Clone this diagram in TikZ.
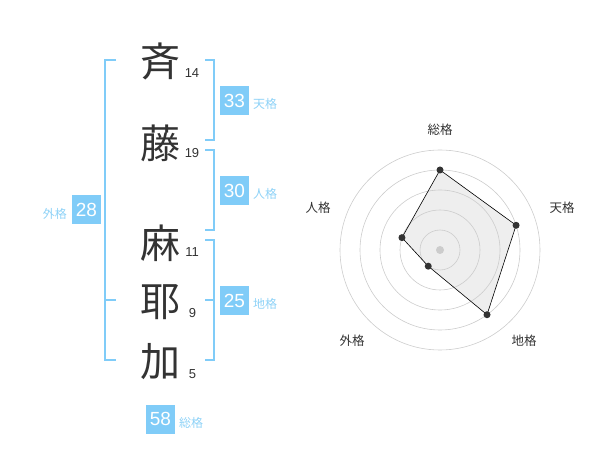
\documentclass[tikz,border=0pt]{standalone}
\usepackage{fontspec}
\setmainfont{Liberation Sans}
\newfontfamily\jpfont{Noto Sans CJK JP}
\definecolor{kakublue}{HTML}{80CCF8}
\definecolor{labelblue}{HTML}{8ED2F7}
\definecolor{inkgray}{HTML}{333333}
\definecolor{ringgray}{HTML}{CCCCCC}
\definecolor{areagray}{HTML}{EEEEEE}

\begin{document}
\begin{tikzpicture}[x=1pt, y=-1pt,
  kanji/.style={font=\jpfont\fontsize{40}{40}\selectfont, text=inkgray, inner sep=0pt},
  strokes/.style={font=\fontsize{13}{13}\selectfont, text=inkgray, inner sep=0pt},
  kakubox/.style={fill=kakublue, text=white, minimum size=29pt, inner sep=0pt,
    font=\fontsize{19}{19}\selectfont},
  kakuname/.style={font=\jpfont\fontsize{12}{12}\selectfont, text=labelblue, inner sep=0pt},
  bracket/.style={draw=kakublue, line width=2pt},
  axisname/.style={font=\jpfont\fontsize{12.5}{12.5}\selectfont, text=inkgray, inner sep=0pt},
  dot/.style={circle, fill=inkgray, inner sep=0pt, minimum size=7pt}]
  \useasboundingbox (0,0) rectangle (600,470);

  \node[kanji] (sai) at (160, 61) {斉};
  \node[kanji] (to) at (160, 143) {藤};
  \node[kanji] (ma) at (160, 243) {麻};
  \node[kanji] (ya) at (160, 302) {耶};
  \node[kanji] (ka) at (160, 362) {加};

  \node[strokes] (n14) at (192, 73) {14};
  \node[strokes] (n19) at (192, 153) {19};
  \node[strokes] (n11) at (192, 252) {11};
  \node[strokes] (n9) at (192.5, 313) {9};
  \node[strokes] (n5) at (192.5, 374) {5};

  % brackets
  \draw[bracket] (116, 60) -- (105, 60) -- (105, 360) -- (116, 360);
  \draw[bracket] (105, 300) -- (116, 300);
  \draw[bracket] (205, 60) -- (214, 60) -- (214, 140) -- (205, 140);
  \draw[bracket] (205, 150) -- (214, 150) -- (214, 230) -- (205, 230);
  \draw[bracket] (205, 240) -- (214, 240) -- (214, 360) -- (205, 360);
  \draw[bracket] (205, 300) -- (214, 300);

  \node[kakubox] (ten) at (234.5, 100.5) {33};
  \node[kakuname, anchor=west] (tenl) at (253, 104) {天格};
  \node[kakubox] (jin) at (234.5, 190.5) {30};
  \node[kakuname, anchor=west] (jinl) at (253, 194) {人格};
  \node[kakubox] (chi) at (234.5, 300.5) {25};
  \node[kakuname, anchor=west] (chil) at (253, 304) {地格};
  \node[kakubox] (gai) at (86.5, 210) {28};
  \node[kakuname, anchor=east] (gail) at (67, 214) {外格};
  \node[kakubox] (so) at (160.5, 419) {58};
  \node[kakuname, anchor=west] (sol) at (179, 423) {総格};

  % radar chart
  \begin{scope}[shift={(440,250)}, y=1pt]
    \coordinate (pso) at (90:80);
    \coordinate (pten) at (18:80);
    \coordinate (pchi) at (-54:80);
    \coordinate (pgai) at (-126:20);
    \coordinate (pjin) at (162:40);
    \fill[areagray] (pso) -- (pten) -- (pchi) -- (pgai) -- (pjin) -- cycle;
    \foreach \r in {20,40,60,80,100}
      \draw[ringgray, line width=0.6pt] (0,0) circle (\r);
    \fill[ringgray] (0,0) circle (4);
    \draw[black, line width=0.6pt]
      (pso) -- (pten) -- (pchi) -- (pgai) -- (pjin) -- cycle;
    \foreach \p in {pso,pten,pchi,pgai,pjin}
      \node[dot] at (\p) {};
  \end{scope}
  \node[axisname] (aso) at (440, 130) {総格};
  \node[axisname] (aten) at (562, 208) {天格};
  \node[axisname] (achi) at (524, 341) {地格};
  \node[axisname] (agai) at (352, 341) {外格};
  \node[axisname] (ajin) at (318, 208) {人格};
\end{tikzpicture}
\end{document}
